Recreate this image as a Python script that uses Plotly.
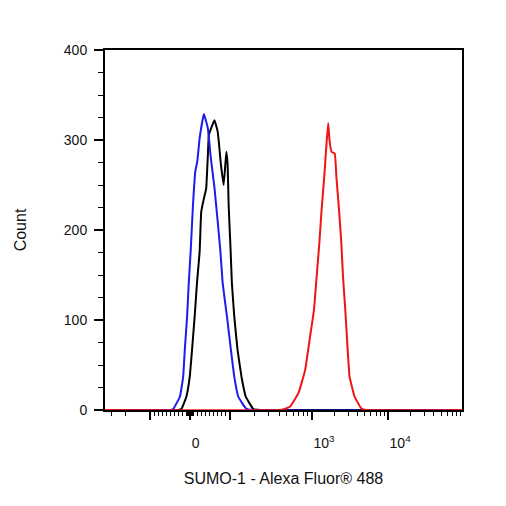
import math
import plotly.graph_objects as go

# ---- data (x in display channels 0-1000, y in counts) ----
blue_channel = [0, 185, 191, 210, 219, 223.5, 230, 234.6, 240.2, 246.5, 252.9, 258.5, 265.1,
                277, 288.1, 295.6, 306.6, 315.8, 323.3, 329.6, 341.6, 352.6, 362.1, 373.1,
                394.2, 412, 1000]
blue_count = [0, 0, 1, 15, 37, 67, 104, 141, 178, 228, 265, 276, 302,
              329, 313, 283, 247, 209, 176, 141, 104, 67, 37, 15,
              2, 0, 0]

black_channel = [0, 205, 214, 228, 237.4, 243.8, 251.2, 257.6, 265.1, 269.5, 277, 283.4,
                 288.1, 290.9, 297.2, 306.6, 315.8, 324.9, 332.4, 339.9, 343.5, 346.3,
                 351.8, 355.4, 362.1, 371.2, 382.3, 394.2, 415.5, 435, 1000]
black_count = [0, 0, 1, 15, 37, 67, 104, 141, 176, 220, 235, 246,
               283, 306, 313, 322, 309, 272, 250, 287, 272, 228,
               178, 141, 104, 67, 37, 15, 1, 0, 0]

red_channel = [0, 490, 500.6, 518.8, 542.1, 560.4, 574.2, 585.3, 592.8, 600.3, 606.6, 614.1,
               620.5, 625.2, 628.8, 634.4, 643.5, 648.2, 655.6, 662.1, 666.7, 673.1, 678.7,
               685, 698.9, 717.5, 731.3, 1000]
red_count = [0, 0, 1, 4, 19, 44, 81, 111, 148, 185, 222, 259,
             296, 319, 300, 287, 285, 259, 222, 185, 148, 111, 74,
             37, 15, 2, 0, 0]

major_values = [-100, 0, 100, 1000, 10000]
major_labels = ["", "0", "", "10<sup>3</sup>", "10<sup>4</sup>"]
y_ticks = [0, 100, 200, 300, 400]

x_title = "SUMO-1 - Alexa Fluor® 488"
y_title = "Count"

# ---- biexponential-like display transform for the axis ticks ----
CH0, LIN, D1, D2 = 238.2, 1.108, 229.9, 213.3


def disp(v):
    s = 1 if v >= 0 else -1
    a = abs(v)
    if a <= 100:
        return CH0 + LIN * v
    if a <= 1000:
        r = 100 * LIN + D1 * math.log10(a / 100)
    else:
        r = 100 * LIN + D1 + D2 * math.log10(a / 1000)
    return CH0 + s * r


minor_values = ([-300, -200] + list(range(-90, 0, 10)) + [i for i in range(-9, 10) if i != 0]
                + list(range(10, 100, 10)) + list(range(200, 1000, 100))
                + list(range(2000, 10000, 1000)) + list(range(20000, 100000, 10000)))
minor_pos = [disp(v) for v in minor_values if 0 <= disp(v) <= 1000]
major_pos = [disp(v) for v in major_values]

FONT = "Liberation Sans, Arial, sans-serif"

fig = go.Figure()
for xs, ys, col in [(black_channel, black_count, "#000000"),
                    (blue_channel, blue_count, "#1c1cf0"),
                    (red_channel, red_count, "#f01414")]:
    fig.add_trace(go.Scatter(x=xs, y=ys, mode="lines",
                             line=dict(color=col, width=2, shape="spline", smoothing=0.3),
                             showlegend=False, hoverinfo="skip"))

fig.update_layout(
    width=506, height=506,
    margin=dict(l=93, r=52, t=42, b=104),
    paper_bgcolor="white", plot_bgcolor="white",
    font=dict(family=FONT, color="#111111"),
    xaxis=dict(
        range=[0, 1000], showgrid=False, zeroline=False,
        showline=True, linecolor="#000", linewidth=2, mirror=True, layer="below traces",
        tickmode="array", tickvals=major_pos, ticktext=major_labels,
        ticks="outside", ticklen=8, tickwidth=1.5, tickcolor="#000",
        ticklabelposition="outside right", ticklabelstandoff=19,
        tickfont=dict(size=14, family=FONT),
        minor=dict(tickmode="array", tickvals=minor_pos, ticks="outside",
                   ticklen=4, tickwidth=1.2, tickcolor="#000", showgrid=False),
        title=dict(text=x_title, font=dict(size=16, family=FONT), standoff=23),
    ),
    yaxis=dict(
        range=[0, 400], showgrid=False, zeroline=False,
        showline=True, linecolor="#000", linewidth=2, mirror=True, layer="below traces",
        tickmode="array", tickvals=y_ticks,
        ticks="outside", ticklen=9, tickwidth=1.5, tickcolor="#000",
        tickfont=dict(size=14, family=FONT), ticklabelstandoff=4,
        minor=dict(dtick=25, ticks="outside", ticklen=5, tickwidth=1.2,
                   tickcolor="#000", showgrid=False),
        title=dict(text=y_title, font=dict(size=16, family=FONT), standoff=33),
    ),
)

fig.write_html("out.html")
